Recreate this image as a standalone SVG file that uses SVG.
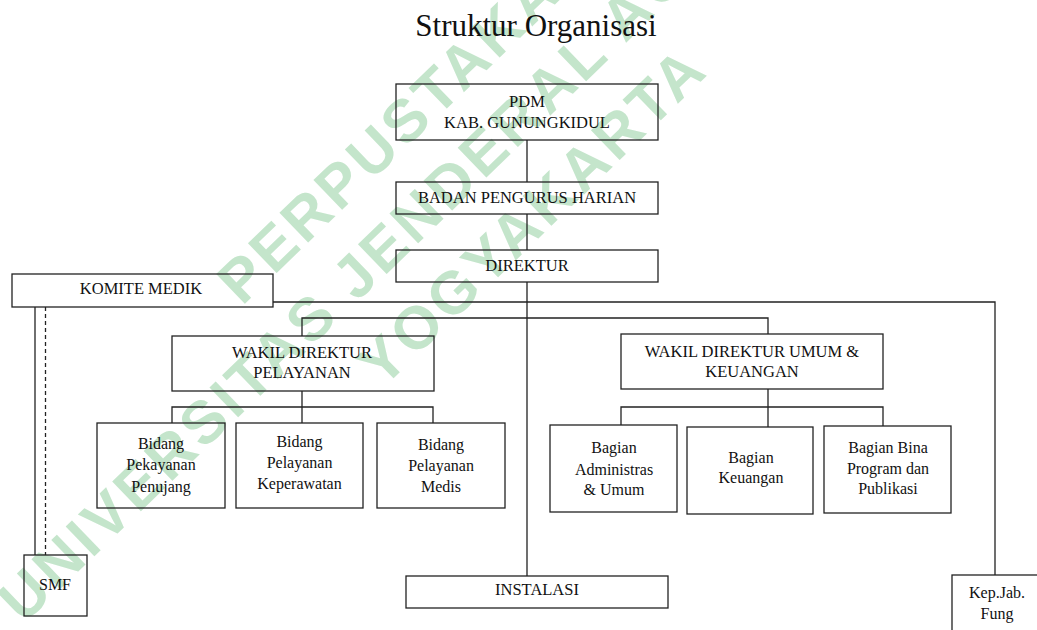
<svg xmlns="http://www.w3.org/2000/svg" width="1037" height="630" viewBox="0 0 1037 630">
<style>
.wm{font-family:"Liberation Sans",Arial,sans-serif;font-weight:bold;font-size:60px;letter-spacing:4px;fill:#c4e5cb;text-anchor:middle}
.box{fill:none;stroke:#222;stroke-width:1.3}
.t{font-family:"Liberation Serif","Times New Roman",serif;font-size:16.5px;fill:#111;text-anchor:middle}
.s{font-family:"Liberation Serif","Times New Roman",serif;font-size:16px;fill:#111;text-anchor:middle}
.ln{fill:none;stroke:#222;stroke-width:1.3}
.dash{fill:none;stroke:#222;stroke-width:1.3;stroke-dasharray:4 3}
</style>
<rect width="1037" height="630" fill="#fff"/>
<g id="watermark" transform="translate(491,173) rotate(-44)">
<text class="wm" x="0" y="-77">PERPUSTAKAAN</text>
<text class="wm" x="0" y="0">UNIVERSITAS JENDERAL ACHMAD YANI</text>
<text class="wm" x="0" y="80">YOGYAKARTA</text>
</g>
<text id="title" x="536" y="36" font-family="Liberation Serif, Times New Roman, serif" font-size="31" text-anchor="middle" fill="#111">Struktur Organisasi</text>
<g id="connectors">
<path class="ln" d="M527 140V182M527 214V250M527 282V576"/>
<path class="ln" d="M273 302H995V575"/>
<path class="ln" d="M302 336V318H768V334"/>
<path class="ln" d="M302 391V423M172 423V407H433V423"/>
<path class="ln" d="M768 389V427M621 425V407H883V426"/>
<path class="ln" d="M35 307V555"/>
<path class="dash" d="M45.5 307V555"/>
</g>
<g id="pdm"><rect class="box" x="396" y="84" width="262" height="56"/><text class="t" x="527" y="107">PDM</text><text class="t" x="527" y="128">KAB. GUNUNGKIDUL</text></g>
<g id="bph"><rect class="box" x="396" y="182" width="262" height="32"/><text class="t" x="527" y="202.5">BADAN PENGURUS HARIAN</text></g>
<g id="direktur"><rect class="box" x="396" y="250" width="262" height="32"/><text class="t" x="527" y="271">DIREKTUR</text></g>
<g id="komite"><rect class="box" x="12" y="274" width="261" height="33"/><text class="t" x="141" y="294">KOMITE MEDIK</text></g>
<g id="wadir-pel"><rect class="box" x="172" y="336" width="262" height="55"/><text class="t" x="302" y="358">WAKIL DIREKTUR</text><text class="t" x="302" y="378">PELAYANAN</text></g>
<g id="wadir-umum"><rect class="box" x="621" y="334" width="262" height="55"/><text class="t" x="752" y="357">WAKIL DIREKTUR UMUM &amp;</text><text class="t" x="752" y="377">KEUANGAN</text></g>
<g id="bid-penunjang"><rect class="box" x="97" y="423" width="128" height="85"/><text class="s" x="161" y="449">Bidang</text><text class="s" x="161" y="470">Pekayanan</text><text class="s" x="161" y="491.5">Penujang</text></g>
<g id="bid-kep"><rect class="box" x="236" y="423" width="127" height="85"/><text class="s" x="299.5" y="447">Bidang</text><text class="s" x="299.5" y="468">Pelayanan</text><text class="s" x="299.5" y="488.5">Keperawatan</text></g>
<g id="bid-medis"><rect class="box" x="377" y="423" width="128" height="85"/><text class="s" x="441" y="450">Bidang</text><text class="s" x="441" y="470.5">Pelayanan</text><text class="s" x="441" y="491.5">Medis</text></g>
<g id="bag-adm"><rect class="box" x="550" y="425" width="127" height="87"/><text class="s" x="614" y="453">Bagian</text><text class="s" x="614" y="475">Administras</text><text class="s" x="614" y="495">&amp; Umum</text></g>
<g id="bag-keu"><rect class="box" x="687" y="427" width="126" height="87"/><text class="s" x="751" y="463">Bagian</text><text class="s" x="751" y="483">Keuangan</text></g>
<g id="bag-bina"><rect class="box" x="824" y="426" width="127" height="87"/><text class="s" x="888" y="453">Bagian Bina</text><text class="s" x="888" y="474">Program dan</text><text class="s" x="888" y="494">Publikasi</text></g>
<g id="smf"><rect class="box" x="24" y="555" width="63" height="61"/><text class="s" x="55" y="590">SMF</text></g>
<g id="instalasi"><rect class="box" x="406" y="576" width="262" height="32"/><text class="t" x="537" y="595">INSTALASI</text></g>
<g id="kepjab"><rect class="box" x="952" y="575" width="100" height="70"/><text class="s" x="997" y="598">Kep.Jab.</text><text class="s" x="997" y="619">Fung</text></g>
</svg>
